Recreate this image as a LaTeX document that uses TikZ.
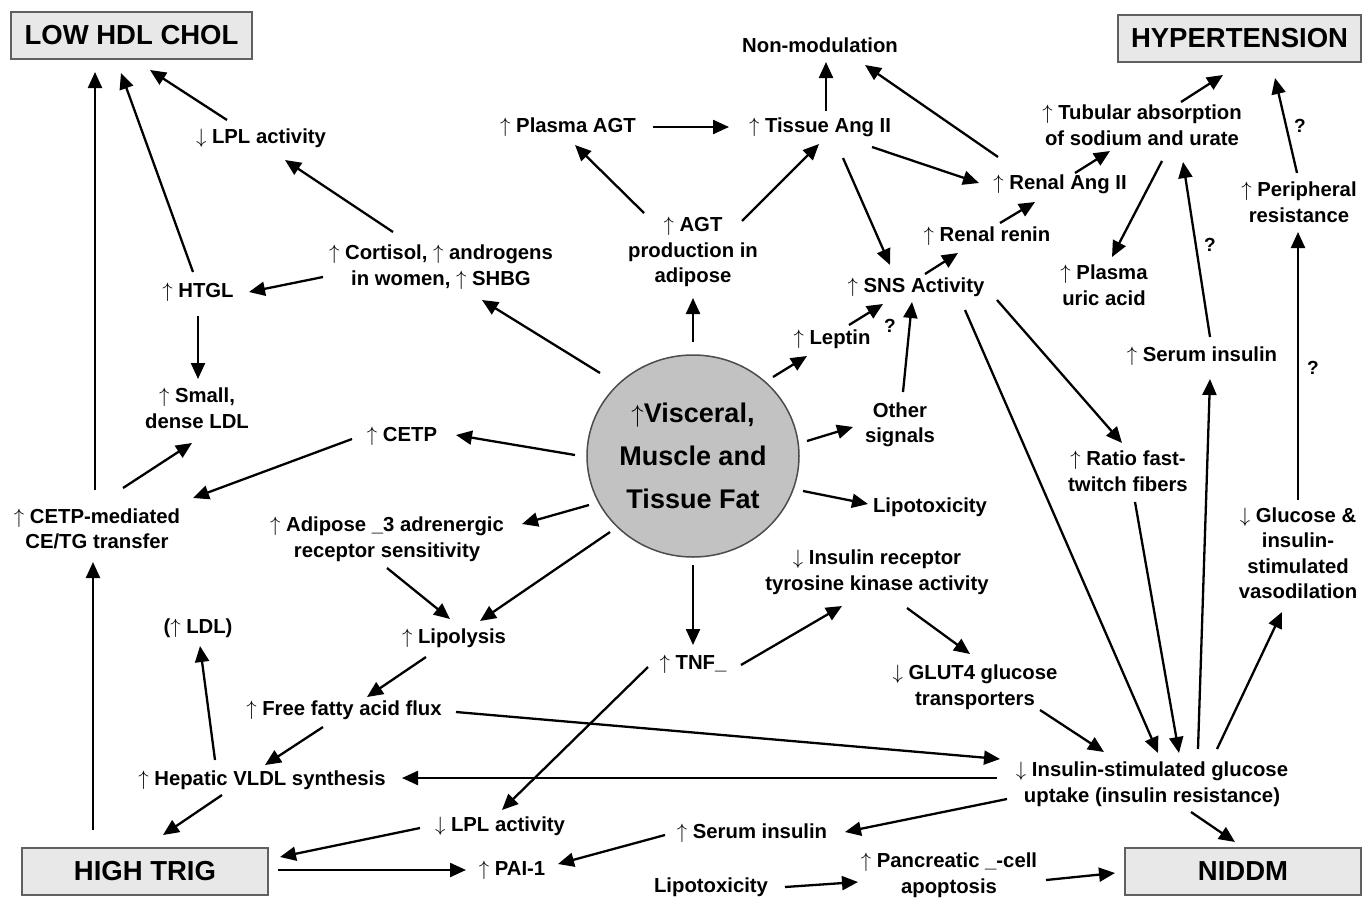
\documentclass[tikz,border=0pt]{standalone}
\usepackage{fontspec}
\setmainfont{Liberation Sans}
\usetikzlibrary{arrows.meta,calc,shapes.geometric}
\newcommand\UA{$\uparrow$}
\newcommand\DA{$\downarrow$}
\newcommand\arw[4]{\draw[arr] ($(#1)+(#2)$) -- ($(#3)+(#4)$);}
\begin{document}
\begin{tikzpicture}[x=1pt,y=-1pt,
  lbl/.style={align=center, font=\bfseries\fontsize{20.3}{25.5}\selectfont, inner sep=0pt},
  box/.style={draw=gray!75!black, fill=gray!18, line width=1.5pt, minimum width=241pt,
    minimum height=47pt, inner sep=0pt, font=\bfseries\fontsize{27.5}{30}\selectfont},
  fatnode/.style={ellipse, draw=gray!60!black, fill=gray!48, line width=1.5pt,
    minimum width=212pt, minimum height=202pt, inner sep=0pt, align=center,
    font=\bfseries\fontsize{27}{43}\selectfont},
  arr/.style={line width=2.3pt, -{Triangle[length=16pt,width=14pt]}},
  qm/.style={font=\bfseries\fontsize{19}{22}\selectfont, inner sep=0pt}]
\useasboundingbox (0,0) rectangle (1362,897);
\fill[white] (0,0) rectangle (1362,897);
% boxes
\node[box] (lowhdl) at (131.5,35.5) {LOW HDL CHOL};
\node[box, minimum width=243pt] (hyper) at (1239.5,38.5) {HYPERTENSION};
\node[box, minimum width=246pt] (hightrig) at (145,871.5) {HIGH TRIG};
\node[box, minimum width=236pt] (niddm) at (1243,871.5) {NIDDM};
% centre
\node[fatnode] (fat) at (693,456) {\UA Visceral,\\Muscle and\\Tissue Fat};
% labels
\node[lbl] (lpltop) at (261,138) {\DA\ LPL activity};
\node[lbl] (nonmod) at (820,45) {Non-modulation};
\node[lbl] (plasmaagt) at (568,127) {\UA\ Plasma AGT};
\node[lbl] (tissueang) at (820,127) {\UA\ Tissue Ang II};
\node[lbl] (tubular) at (1142,125) {\UA\ Tubular absorption\\of sodium and urate};
\node[lbl] (renalang) at (1060,184) {\UA\ Renal Ang II};
\node[lbl] (periph) at (1299,202) {\UA\ Peripheral\\resistance};
\node[lbl] (cortisol) at (441,267) {\UA\ Cortisol, \UA\ androgens\\in women, \UA\ SHBG};
\node[lbl] (htgl) at (198,292) {\UA\ HTGL};
\node[lbl] (agt) at (693,252) {\UA\ AGT\\production in\\adipose};
\node[lbl] (renin) at (987,236) {\UA\ Renal renin};
\node[lbl] (sns) at (916,287) {\UA\ SNS Activity};
\node[lbl] (uric) at (1104,285) {\UA\ Plasma\\uric acid};
\node[lbl] (leptin) at (832,339) {\UA\ Leptin};
\node[lbl] (seruminsR) at (1202,356) {\UA\ Serum insulin};
\node[lbl] (smallldl) at (197,408) {\UA\ Small,\\dense LDL};
\node[lbl] (cetp) at (402,436) {\UA\ CETP};
\node[lbl] (other) at (900,425) {Other\\signals};
\node[lbl] (ratio) at (1128,471) {\UA\ Ratio fast-\\twitch fibers};
\node[lbl] (cetpmed) at (97,529) {\UA\ CETP-mediated\\CE/TG transfer};
\node[lbl] (adipose) at (387,539) {\UA\ Adipose \_3 adrenergic\\receptor sensitivity};
\node[lbl] (lipotox) at (930,507) {Lipotoxicity};
\node[lbl] (glucvaso) at (1298,553) {\DA\ Glucose \&\\insulin-\\stimulated\\vasodilation};
\node[lbl] (insrec) at (877,572) {\DA\ Insulin receptor\\tyrosine kinase activity};
\node[lbl] (ldl) at (198,628) {(\UA\ LDL)};
\node[lbl] (lipolysis) at (454,638) {\UA\ Lipolysis};
\node[lbl] (tnf) at (693,664) {\UA\ TNF\_};
\node[lbl] (glut4) at (975,687) {\DA\ GLUT4 glucose\\transporters};
\node[lbl] (ffa) at (344,710) {\UA\ Free fatty acid flux};
\node[lbl] (vldl) at (262,780) {\UA\ Hepatic VLDL synthesis};
\node[lbl] (insres) at (1152,784) {\DA\ Insulin-stimulated glucose\\uptake (insulin resistance)};
\node[lbl] (lplbot) at (500,826) {\DA\ LPL activity};
\node[lbl] (seruminsB) at (752,833) {\UA\ Serum insulin};
\node[lbl] (pai) at (512,870) {\UA\ PAI-1};
\node[lbl] (lipotoxB) at (711,887) {Lipotoxicity};
\node[lbl] (pancreatic) at (949,875) {\UA\ Pancreatic \_-cell\\apoptosis};
% question marks
\node[qm] (q1) at (1300,126) {?};
\node[qm] (q2) at (1210,245) {?};
\node[qm] (q3) at (890,326) {?};
\node[qm] (q4) at (1313,368) {?};
% connectors
\arw{lpltop}{-34,-18}{lowhdl}{18.5,34.5}
\arw{htgl}{-5,-20}{lowhdl}{-10.5,37.5}
\arw{cetpmed}{-2,-39}{lowhdl}{-36.5,36.5}
\arw{cortisol}{-48,-35}{lpltop}{24,22}
\arw{cortisol}{-118,10}{htgl}{51,0}
\arw{htgl}{0,24}{smallldl}{1,-29}
\arw{cetpmed}{26,-41}{smallldl}{-5,35}
\arw{cetp}{-50,3}{cetpmed}{96,-31}
\arw{fat}{-118,-1}{cetp}{54,-1}
\arw{fat}{-93,-83}{cortisol}{41,33}
\arw{fat}{0,-114}{agt}{0,46}
\arw{agt}{-49,-39}{plasmaagt}{7,18}
\arw{agt}{49,-31}{tissueang}{-1,17}
\arw{plasmaagt}{85,0}{tissueang}{-91,0}
\arw{tissueang}{6,-16}{nonmod}{6,17}
\arw{renalang}{-62,-27}{nonmod}{45,20}
\arw{tissueang}{52,20}{renalang}{-81,-1}
\arw{tissueang}{23,31}{sns}{-26,-22}
\arw{renalang}{15,-11}{tubular}{-32,26}
\arw{tubular}{39,-23}{hyper}{-16.5,36.5}
\arw{tubular}{20,36}{uric}{8,-28}
\arw{periph}{-2,-29}{hyper}{35.5,39.5}
\arw{glucvaso}{0,-53}{periph}{-1,30}
\arw{seruminsR}{8,-19}{tubular}{41,37}
\arw{sns}{9,-13}{renin}{-29,17}
\arw{renin}{13,-13}{renalang}{-25,18}
\arw{fat}{80,-79}{leptin}{-25,17}
\arw{leptin}{17,-14}{sns}{-33,17}
\arw{other}{3,-33}{sns}{-4,15}
\arw{fat}{114,-15}{other}{-47,2}
\arw{fat}{110,35}{lipotox}{-62,-3}
\arw{sns}{81,13}{ratio}{-6,-28}
\arw{sns}{49,23}{insres}{6,-31}
\arw{ratio}{7,31}{insres}{27,-31}
\arw{insres}{46,-35}{seruminsR}{8,23}
\arw{insres}{65,-35}{glucvaso}{-16,59}
\arw{insres}{39,28}{niddm}{-8,-29.5}
\arw{fat}{0,109}{tnf}{0,-19}
\arw{tnf}{48,1}{insrec}{-35,34}
\arw{insrec}{30,36}{glut4}{-5,-33}
\arw{glut4}{65,23}{insres}{-48,-32}
\arw{ffa}{112,2}{insres}{-152,-25}
\arw{insres}{-155,-6}{vldl}{140,-2}
\arw{insres}{-145,15}{seruminsB}{93,-1}
\arw{tnf}{-45,3}{lplbot}{2,-16}
\arw{fat}{-104,49}{adipose}{135,-15}
\arw{fat}{-83,76}{lipolysis}{26,-17}
\arw{adipose}{0,29}{lipolysis}{-4,-19}
\arw{lipolysis}{-28,19}{ffa}{23,-13}
\arw{ffa}{-21,17}{vldl}{3,-15}
\arw{vldl}{-47,-20}{ldl}{2,18}
\arw{vldl}{-40,15}{hightrig}{18,-36.5}
\arw{hightrig}{-52,-41.5}{cetpmed}{-4,33}
\arw{lplbot}{-80,2}{hightrig}{135,-14.5}
\arw{hightrig}{133,-1.5}{pai}{-46,0}
\arw{seruminsB}{-87,2}{pai}{46,-6}
\arw{lipotoxB}{74,0}{pancreatic}{-91,7}
\arw{pancreatic}{97,5}{niddm}{-128,1.5}
\end{tikzpicture}
\end{document}
